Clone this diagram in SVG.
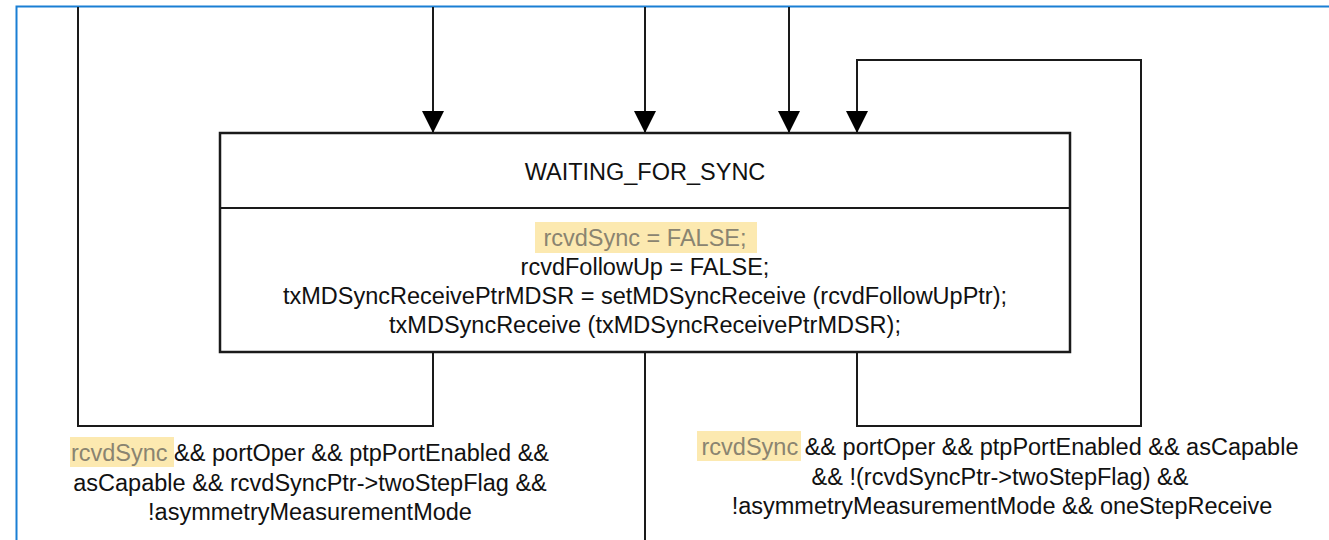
<svg xmlns="http://www.w3.org/2000/svg" width="1329" height="540" viewBox="0 0 1329 540">
<style>
.ln{fill:none;stroke:#1a1a1a;stroke-width:2}
.bx{fill:#fff;stroke:#1a1a1a;stroke-width:2.5}
.t{font-family:"Liberation Sans",Arial,sans-serif;font-size:23.5px;fill:#111;text-anchor:middle}
.hl{fill:#fce9b0}
.hg{fill:#8a8470}
</style>
<defs>
<marker id="ah" markerUnits="userSpaceOnUse" markerWidth="22" markerHeight="22" refX="22" refY="11" orient="auto" viewBox="0 0 22 22">
<path d="M0,0 L22,11 L0,22 z" fill="#000"/>
</marker>
</defs>
<rect width="1329" height="540" fill="#fff"/>
<path d="M16.5,540 V6.5 H1329" fill="none" stroke="#1a7fd4" stroke-width="2"/>
<g id="connectors">
<path class="ln" d="M433,7 V133" marker-end="url(#ah)"/>
<path class="ln" d="M645,7 V133" marker-end="url(#ah)"/>
<path class="ln" d="M789,7 V133" marker-end="url(#ah)"/>
<path class="ln" d="M857,352 V426 H1141 V60 H857 V133" marker-end="url(#ah)"/>
<path class="ln" d="M433,352 V426 H78 V7"/>
<path class="ln" d="M645,352 V540"/>
</g>
<g id="waiting_for_sync">
<rect class="bx" x="220" y="133" width="850" height="219"/>
<line class="ln" x1="220" y1="208" x2="1070" y2="208" stroke-width="2.5"/>
<text class="t" x="645" y="180">WAITING_FOR_SYNC</text>
<rect class="hl" x="535" y="222" width="222" height="31"/>
<text class="t hg" x="645" y="246">rcvdSync = FALSE;</text>
<text class="t" x="645" y="275">rcvdFollowUp = FALSE;</text>
<text class="t" x="645" y="304">txMDSyncReceivePtrMDSR = setMDSyncReceive (rcvdFollowUpPtr);</text>
<text class="t" x="645" y="333">txMDSyncReceive (txMDSyncReceivePtrMDSR);</text>
</g>
<g id="label_left">
<rect class="hl" x="70" y="437" width="104" height="30"/>
<text class="t" x="310" y="461"><tspan class="hg">rcvdSync</tspan> &amp;&amp; portOper &amp;&amp; ptpPortEnabled &amp;&amp;</text>
<text class="t" x="310" y="491">asCapable &amp;&amp; rcvdSyncPtr-&gt;twoStepFlag &amp;&amp;</text>
<text class="t" x="310" y="520">!asymmetryMeasurementMode</text>
</g>
<g id="label_right">
<rect class="hl" x="697" y="431" width="104" height="30"/>
<text class="t" x="1000" y="455"><tspan class="hg">rcvdSync</tspan> &amp;&amp; portOper &amp;&amp; ptpPortEnabled &amp;&amp; asCapable</text>
<text class="t" x="1000" y="485">&amp;&amp; !(rcvdSyncPtr-&gt;twoStepFlag) &amp;&amp;</text>
<text class="t" x="1002" y="514">!asymmetryMeasurementMode &amp;&amp; oneStepReceive</text>
</g>
</svg>
